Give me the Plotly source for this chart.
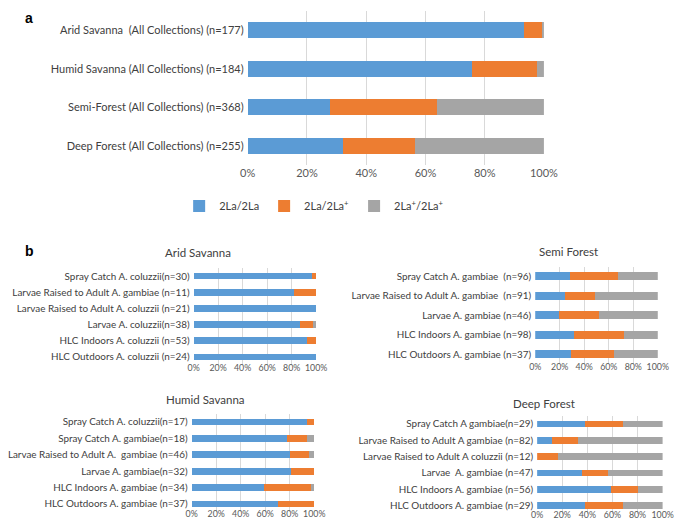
import plotly.graph_objects as go

W, H = 685, 520
FONT = "Lato"
BLUE, ORANGE, GREY = "#5B9BD5", "#ED7D31", "#A5A5A5"
NAMES = ["2La/2La", "2La/2La<sup>+</sup>", "2La<sup>+</sup>/2La<sup>+</sup>"]

# ---- Panel a: all collections ----
a_cats = ["Arid Savanna  (All Collections) (n=177)",
          "Humid Savanna (All Collections) (n=184)",
          "Semi-Forest (All Collections) (n=368)",
          "Deep Forest (All Collections) (n=255)"]
a_hom = [93.4, 75.8, 27.7, 32.2]
a_het = [6.0, 21.9, 36.2, 24.4]
a_std = [0.6, 2.3, 36.1, 43.4]

# ---- Panel b: Arid Savanna ----
arid_cats = ["Spray Catch A. coluzzii(n=30)",
             "Larvae Raised to Adult A. gambiae (n=11)",
             "Larvae Raised to Adult A. coluzzii (n=21)",
             "Larvae A. coluzzii(n=38)",
             "HLC Indoors A. coluzzii (n=53)",
             "HLC Outdoors A. coluzzii (n=24)"]
arid_hom = [96.7, 81.8, 100.0, 86.8, 92.5, 100.0]
arid_het = [3.3, 18.2, 0.0, 10.6, 7.5, 0.0]
arid_std = [0.0, 0.0, 0.0, 2.6, 0.0, 0.0]

# ---- Panel b: Semi Forest ----
semi_cats = ["Spray Catch A. gambiae  (n=96)",
             "Larvae Raised to Adult A. gambiae  (n=91)",
             "Larvae A. gambiae (n=46)",
             "HLC Indoors A. gambiae (n=98)",
             "HLC Outdoors A. gambiae (n=37)"]
semi_hom = [28.1, 24.2, 19.6, 31.6, 29.0]
semi_het = [39.6, 24.3, 32.1, 40.7, 35.4]
semi_std = [32.3, 51.5, 48.3, 27.7, 35.6]

# ---- Panel b: Humid Savanna ----
humid_cats = ["Spray Catch A. coluzzii(n=17)",
              "Spray Catch A. gambiae(n=18)",
              "Larvae Raised to Adult A.  gambiae (n=46)",
              "Larvae A. gambiae(n=32)",
              "HLC Indoors A. gambiae (n=34)",
              "HLC Outdoors A. gambiae (n=37)"]
humid_hom = [94.1, 77.8, 80.4, 81.3, 58.8, 70.3]
humid_het = [5.9, 16.6, 15.3, 18.7, 38.3, 29.7]
humid_std = [0.0, 5.6, 4.3, 0.0, 2.9, 0.0]

# ---- Panel b: Deep Forest ----
deep_cats = ["Spray Catch A gambiae(n=29)",
             "Larvae Raised to Adult A gambiae (n=82)",
             "Larvae Raised to Adult A coluzzii (n=12)",
             "Larvae  A. gambiae (n=47)",
             "HLC Indoors A. gambiae (n=56)",
             "HLC Outdoors A. gambiae (n=29)"]
deep_hom = [37.9, 11.6, 0.0, 36.0, 58.5, 37.9]
deep_het = [30.7, 20.9, 16.7, 20.4, 21.7, 30.7]
deep_std = [31.4, 67.5, 83.3, 43.6, 19.8, 31.4]

tick_vals = [0, 20, 40, 60, 80, 100]
tick_text = ["0%", "20%", "40%", "60%", "80%", "100%"]

panels = [
    ("", a_cats, a_hom, a_het, a_std, True),
    ("2", arid_cats, arid_hom, arid_het, arid_std, False),
    ("3", semi_cats, semi_hom, semi_het, semi_std, False),
    ("4", humid_cats, humid_hom, humid_het, humid_std, False),
    ("5", deep_cats, deep_hom, deep_het, deep_std, False),
]

fig = go.Figure()
for suffix, cats, hom, het, std, legend in panels:
    for name, vals, col in zip(NAMES, [hom, het, std], [BLUE, ORANGE, GREY]):
        fig.add_trace(go.Bar(
            y=cats, x=vals, orientation="h", name=name,
            marker=dict(color=col, line=dict(width=0)),
            xaxis="x" + suffix, yaxis="y" + suffix,
            showlegend=legend, legendgroup=name, hoverinfo="x+y"))

def px_x(a, b):
    return [a / W, b / W]

def px_y(top, bottom):
    return [1 - bottom / H, 1 - top / H]

# suffix: x-domain, y-domain, tick font, category font, tick standoff
domains = {
    "": (px_x(238, 545), px_y(3, 157), 11, 11, 0),
    "2": (px_x(182, 309), px_y(260, 357), 8.8, 9.9, -4),
    "3": (px_x(536, 663), px_y(258.5, 356), 8.8, 9.9, -4),
    "4": (px_x(180, 307), px_y(405.8, 504.2), 8.8, 9.9, -5),
    "5": (px_x(538, 668), px_y(407.8, 505.8), 8.8, 9.9, -6.5),
}

layout = dict(
    width=W, height=H,
    margin=dict(l=0, r=0, t=0, b=0),
    paper_bgcolor="white", plot_bgcolor="white",
    barmode="stack", bargap=0.58,
    font=dict(family=FONT, color="#404040"),
    legend=dict(orientation="h", x=167 / W, y=1 - 198 / H,
                xanchor="left", yanchor="middle",
                font=dict(size=11, color="#404040", family=FONT),
                traceorder="normal", bgcolor="rgba(0,0,0,0)"),
    showlegend=True,
)
for suffix, (xd, yd, tfs, lfs, stand) in domains.items():
    cats = [p for p in panels if p[0] == suffix][0][1]
    layout["xaxis" + suffix] = dict(
        domain=xd, anchor="y" + suffix, range=[0, 100],
        tickvals=tick_vals, ticktext=tick_text,
        showgrid=True, gridcolor="#D9D9D9", gridwidth=1,
        zeroline=False, showline=False, ticks="",
        ticklabelstandoff=int(stand),
        tickfont=dict(size=tfs, color="#595959", family=FONT),
        fixedrange=True)
    layout["yaxis" + suffix] = dict(
        domain=yd, anchor="x" + suffix, type="category",
        categoryorder="array", categoryarray=cats,
        autorange="reversed", showgrid=False, zeroline=False,
        showline=False, ticks="", ticklabelstandoff=3,
        tickfont=dict(size=lfs, color="#404040", family=FONT),
        fixedrange=True)

annotations = [
    dict(text="<b>a</b>", x=5 / W, y=1 - 10 / H, xanchor="left", yanchor="middle",
         font=dict(size=14, family="Liberation Sans", color="#000")),
    dict(text="<b>b</b>", x=5 / W, y=1 - 243 / H, xanchor="left", yanchor="middle",
         font=dict(size=14, family="Liberation Sans", color="#000")),
    dict(text="Arid Savanna", x=187 / W, y=1 - 244 / H),
    dict(text="Semi Forest", x=571 / W, y=1 - 243 / H),
    dict(text="Humid Savanna", x=194 / W, y=1 - 391 / H),
    dict(text="Deep Forest", x=545 / W, y=1 - 395 / H),
]
for ann in annotations[2:]:
    ann.update(xanchor="center", yanchor="middle",
               font=dict(size=11.5, family=FONT, color="#404040"))
for ann in annotations:
    ann.update(xref="paper", yref="paper", showarrow=False)
layout["annotations"] = annotations

fig.update_layout(**layout)
fig.write_html("out.html")
